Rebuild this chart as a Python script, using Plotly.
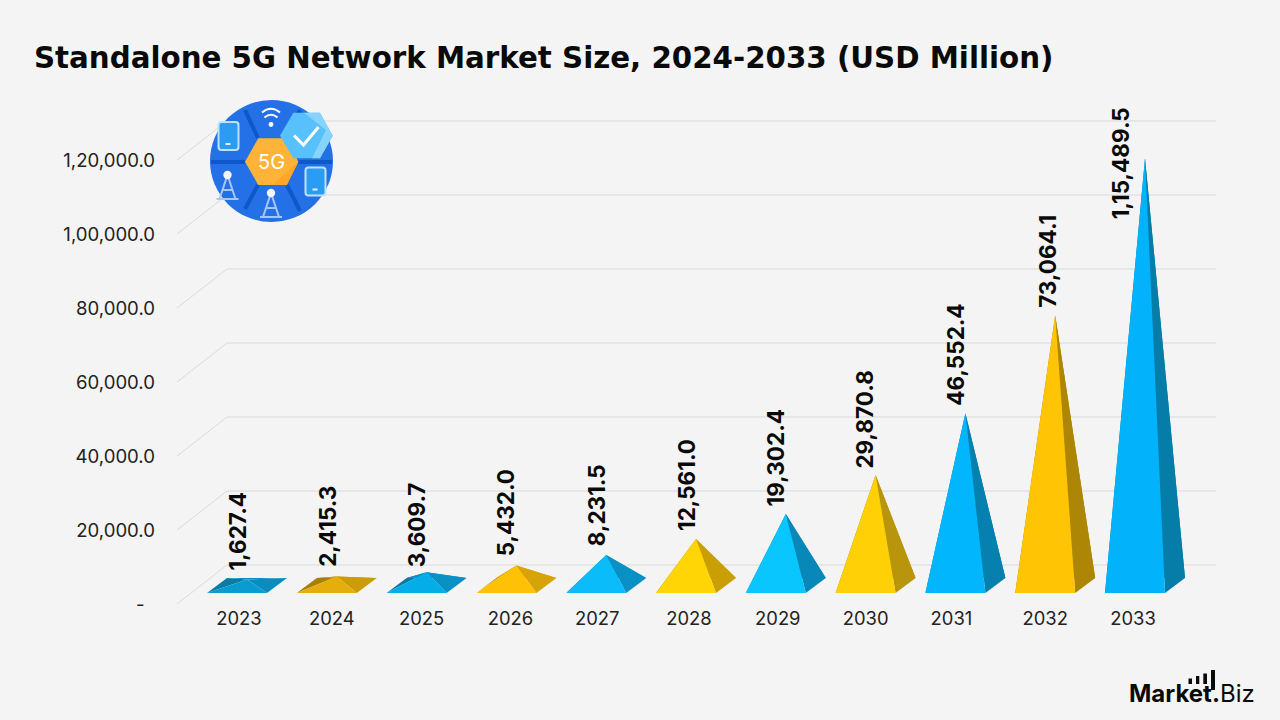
import plotly.graph_objects as go

# ---- chart data ----
YEARS = ["2023", "2024", "2025", "2026", "2027", "2028", "2029", "2030", "2031", "2032", "2033"]
MARKET_SIZE = [1627.4, 2415.3, 3609.7, 5432.0, 8231.5, 12561.0, 19302.4, 29870.8, 46552.4, 73064.1, 115489.5]
VALUE_LABELS = ["1,627.4", "2,415.3", "3,609.7", "5,432.0", "8,231.5", "12,561.0", "19,302.4",
                "29,870.8", "46,552.4", "73,064.1", "1,15,489.5"]
Y_TICKS = [0, 20000, 40000, 60000, 80000, 100000, 120000]
Y_TICK_LABELS = ["-\u00a0\u00a0", "20,000.0", "40,000.0", "60,000.0", "80,000.0", "1,00,000.0", "1,20,000.0"]

# ---- face colours per pyramid ----
FRONT = ["#0A9BD0", "#E6AE0C", "#02ADE8", "#FFC105", "#0ABCFA", "#FFD505", "#0AC6FE",
         "#FFD005", "#02B6FD", "#FFC403", "#02B3FB"]
SIDE = ["#0A8DBE", "#CC9C08", "#0991C4", "#D6A406", "#0990C4", "#C99F05", "#0888B8",
        "#B8950A", "#0680AE", "#AE8606", "#057DA8"]
BACK = ["#0B7BA6", "#A87F08", "#0B7BA6", "#A87F08", "#0B7BA6", "#A87F08", "#0B7BA6",
        "#A87F08", "#0B7BA6", "#A87F08", "#0B7BA6"]

# ---- canvas and plot geometry ----
W, H = 1280, 720
PLOT_L, PLOT_R, PLOT_T, PLOT_B = 177, 1216, 100, 604
PX_PER_VALUE = 74 / 20000
PX_PER_CATEGORY = 89.8
FIRST_CENTER_PX = 237
Y_MAX = (PLOT_B - PLOT_T) / PX_PER_VALUE
X_MIN = (PLOT_L - FIRST_CENTER_PX) / PX_PER_CATEGORY
X_MAX = (PLOT_R - FIRST_CENTER_PX) / PX_PER_CATEGORY

# pseudo-3D projection, expressed in axis units
HALF_WIDTH = 30 / PX_PER_CATEGORY
DEPTH_X = 20 / PX_PER_CATEGORY
FLOOR_FRONT = 11 / PX_PER_VALUE
FLOOR_BACK = 26 / PX_PER_VALUE
APEX_BASE = 18.5 / PX_PER_VALUE
WALL_X = 50 / PX_PER_CATEGORY
WALL_Y = 39 / PX_PER_VALUE

# small offsets for tick and value labels, in pixels
TICK_NUDGE = [2, 5, 5, 4, 1, 3, 2, 0, -4, 0, -2]
LABEL_DX = [0, 0, 0, 0, 0, 0, 0, -1, 0, 2, -15]
LABEL_DY = [7, 8, 3, 7, 7, 6, 6, 4, 6, 5, -63]

TEXT = "Inter"
HEADING = "DejaVu Sans"
fig = go.Figure()


def poly(xs, ys, color):
    fig.add_trace(go.Scatter(x=xs + xs[:1], y=ys + ys[:1], mode="lines", fill="toself",
                             fillcolor=color, line=dict(width=0), hoverinfo="skip", showlegend=False))


# back wall grid with its diagonal returns to the axis
grid_x, grid_y = [], []
for t in Y_TICKS:
    grid_x += [X_MIN, X_MIN + WALL_X, X_MAX, None]
    grid_y += [t, t + WALL_Y, t + WALL_Y, None]
fig.add_trace(go.Scatter(x=grid_x, y=grid_y, mode="lines", line=dict(color="#D9D9D9", width=1),
                         hoverinfo="skip", showlegend=False))

# pyramids
for i, v in enumerate(MARKET_SIZE):
    fl, fr = i - HALF_WIDTH, i + HALF_WIDTH
    bl, br = fl + DEPTH_X, fr + DEPTH_X
    ax, ay = i + DEPTH_X / 2, v + APEX_BASE
    poly([fl, bl, ax], [FLOOR_FRONT, FLOOR_BACK, ay], BACK[i])
    poly([bl, br, ax], [FLOOR_BACK, FLOOR_BACK, ay], SIDE[i])
    poly([fr, br, ax], [FLOOR_FRONT, FLOOR_BACK, ay], SIDE[i])
    poly([fl, fr, ax], [FLOOR_FRONT, FLOOR_FRONT, ay], FRONT[i])

annotations = [
    dict(x=i, y=v + APEX_BASE, text=f"<b>{lab}</b>", textangle=-90, showarrow=False,
         xref="x", yref="y", xanchor="center", yanchor="bottom",
         xshift=dx, yshift=dy, font=dict(family=TEXT, size=22.5, color="#0A0A0A"))
    for i, (v, lab, dx, dy) in enumerate(zip(MARKET_SIZE, VALUE_LABELS, LABEL_DX, LABEL_DY))
]


# ---- badge and wordmark, placed in canvas pixels ----
def px(x):
    return (x - PLOT_L) / (PLOT_R - PLOT_L)


def py(y):
    return (PLOT_B - y) / (PLOT_B - PLOT_T)


shapes = []


def path(points, fill=None, line=None, width=0, close=True):
    d = "M" + " L".join(f"{px(x):.5f},{py(y):.5f}" for x, y in points) + (" Z" if close else "")
    shapes.append(dict(type="path", xref="paper", yref="paper", path=d, layer="above",
                       fillcolor=fill or "rgba(0,0,0,0)",
                       line=dict(color=line or "rgba(0,0,0,0)", width=width)))


def curve(d_points, line, width):
    (x0, y0), (cx, cy), (x1, y1) = d_points
    d = f"M{px(x0):.5f},{py(y0):.5f} Q{px(cx):.5f},{py(cy):.5f} {px(x1):.5f},{py(y1):.5f}"
    shapes.append(dict(type="path", xref="paper", yref="paper", path=d, layer="above",
                       fillcolor="rgba(0,0,0,0)", line=dict(color=line, width=width)))


def oval(cx, cy, rx, ry, fill, line=None, width=0):
    shapes.append(dict(type="circle", xref="paper", yref="paper", layer="above",
                       x0=px(cx - rx), x1=px(cx + rx), y0=py(cy + ry), y1=py(cy - ry),
                       fillcolor=fill, line=dict(color=line or "rgba(0,0,0,0)", width=width)))


def rect(x0, y0, x1, y1, fill, line=None, width=0):
    shapes.append(dict(type="rect", xref="paper", yref="paper", layer="above",
                       x0=px(x0), x1=px(x1), y0=py(y1), y1=py(y0),
                       fillcolor=fill, line=dict(color=line or "rgba(0,0,0,0)", width=width)))


def rounded(x0, y0, x1, y1, r, fill, line=None, width=0):
    seq = [("M", x0 + r, y0), ("L", x1 - r, y0), ("Q", x1, y0, x1, y0 + r), ("L", x1, y1 - r),
           ("Q", x1, y1, x1 - r, y1), ("L", x0 + r, y1), ("Q", x0, y1, x0, y1 - r),
           ("L", x0, y0 + r), ("Q", x0, y0, x0 + r, y0)]
    d = ""
    for seg in seq:
        coords = seg[1:]
        pairs = [f"{px(coords[k]):.5f},{py(coords[k + 1]):.5f}" for k in range(0, len(coords), 2)]
        d += seg[0] + " ".join(pairs) + " "
    shapes.append(dict(type="path", xref="paper", yref="paper", path=d + "Z", layer="above",
                       fillcolor=fill, line=dict(color=line or "rgba(0,0,0,0)", width=width)))


# round badge with honeycomb seams
oval(271.5, 161, 61.5, 61, "#2470E6")
SEAM = "#0F58C9"
for a, b in [((258, 138), (245, 110)), ((287, 138), (300, 110)), ((245, 162), (211, 162)),
             ((298, 162), (332, 162)), ((258, 185), (245, 209)), ((287, 185), (300, 211))]:
    path([a, b], line=SEAM, width=4, close=False)

# centre hexagon
path([(245, 161.7), (258.3, 138.3), (286.7, 138.3), (298.3, 161.7), (286.7, 185), (258.3, 185)], fill="#FFB338")
path([(272, 185), (298.3, 161.7), (286.7, 185)], fill="#FFA726")

# check-mark hexagon
path([(280, 135.7), (293.3, 112.7), (320, 112.7), (332.7, 135.7), (320, 158.3), (293.3, 158.3)], fill="#58C0FA")
path([(304, 112.7), (320, 112.7), (332.7, 135.7), (320, 158.3), (312, 158.3), (326, 130)], fill="#86D4FB")
path([(294, 135.5), (303.5, 145), (318.5, 127)], line="#FFFFFF", width=3, close=False)

# wifi symbol
oval(271, 124.5, 2.4, 2.4, "#FFFFFF")
curve([(264.5, 117.5), (271, 112), (277.5, 117.5)], "#FFFFFF", 2)
curve([(262, 112.5), (271, 105), (280, 112.5)], "#FFFFFF", 2)

# phones
for x0, y0 in [(218.5, 122), (305.5, 167.5)]:
    rounded(x0, y0, x0 + 20, y0 + 28, 3, "#2A9CF2", line="#BDE2FA", width=2)
    rect(x0 + 7, y0 + 21, x0 + 12, y0 + 23, "#DDF2FF")

# antenna towers
TOWER = "#A8C6F4"
for cx, top in [(227.5, 175), (271, 193)]:
    path([(cx - 8, top + 24), (cx, top), (cx + 8, top + 24)], line=TOWER, width=2, close=False)
    path([(cx - 5, top + 15), (cx + 5, top + 15)], line=TOWER, width=2, close=False)
    path([(cx - 11, top + 24), (cx + 11, top + 24)], line=TOWER, width=2, close=False)
    oval(cx, top, 4.2, 4.2, "#F2F6FD")

# wordmark signal bars
for x0, x1, y0 in [(1188.5, 1192, 678.5), (1196, 1199.3, 676), (1203.3, 1207, 673.5)]:
    rect(x0, y0, x1, 684, "#0A0A0A")
rect(1211, 670, 1215, 690, "#0A0A0A")

annotations += [
    dict(x=px(271.5), y=py(162), xref="paper", yref="paper", text="5G", showarrow=False,
         xanchor="center", yanchor="middle", font=dict(family=TEXT, size=20, color="#FFFFFF")),
    dict(x=px(1256.5), y=py(693), xref="paper", yref="paper", xanchor="right", yanchor="middle",
         text="<b>Market.</b>Biz", showarrow=False, font=dict(family=TEXT, size=24, color="#0A0A0A")),
]

fig.update_layout(
    width=W, height=H, autosize=False,
    paper_bgcolor="#F4F4F4", plot_bgcolor="#F4F4F4",
    margin=dict(l=PLOT_L, r=W - PLOT_R, t=PLOT_T, b=H - PLOT_B, pad=0),
    title=dict(text="<b>Standalone 5G Network Market Size, 2024-2033 (USD Million)</b>",
               xref="container", yref="container", x=34 / W, y=1 - 58 / H,
               xanchor="left", yanchor="middle",
               font=dict(family=HEADING, size=29.3, color="#0A0A0A")),
    xaxis=dict(range=[X_MIN, X_MAX], showgrid=False, zeroline=False, showline=False, ticks="",
               tickmode="array", tickvals=[i + n / PX_PER_CATEGORY for i, n in enumerate(TICK_NUDGE)],
               ticktext=YEARS, tickfont=dict(family=TEXT, size=18.4, color="#222222"),
               tickangle=0, ticklabelstandoff=2),
    yaxis=dict(range=[0, Y_MAX], showgrid=False, zeroline=False, showline=False, ticks="",
               tickmode="array", tickvals=Y_TICKS, ticktext=Y_TICK_LABELS,
               tickfont=dict(family=TEXT, size=18.6, color="#222222"), ticklabelstandoff=21),
    shapes=shapes, annotations=annotations, showlegend=False,
)

fig.write_html("out.html")
